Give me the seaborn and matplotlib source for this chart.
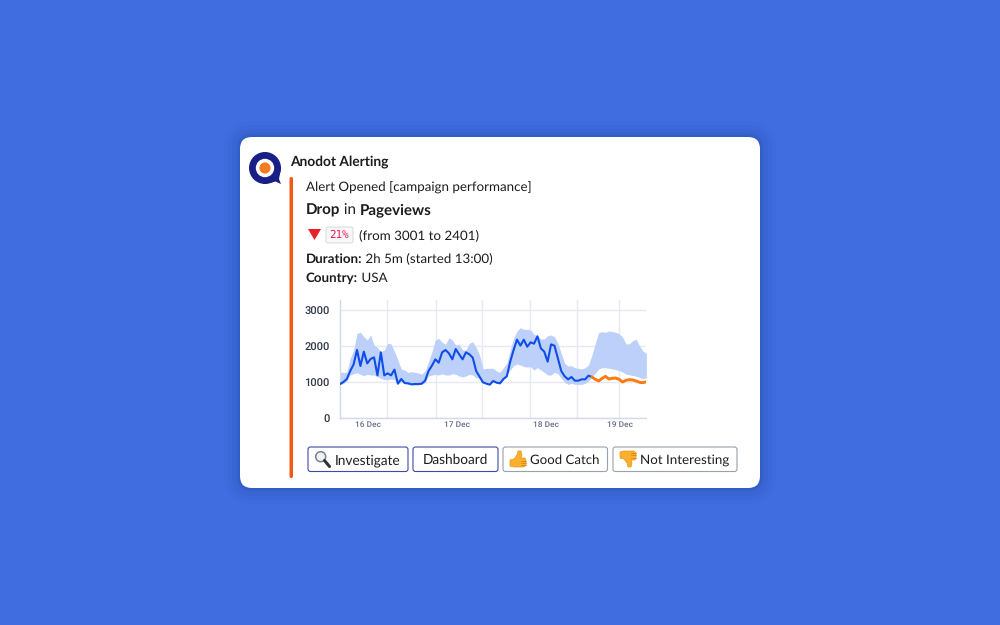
import math
import numpy as np
import pandas as pd
import matplotlib
matplotlib.use('Agg')
import matplotlib.pyplot as plt
from matplotlib.patches import FancyBboxPatch, Circle, Polygon
from matplotlib.transforms import ScaledTranslation
import seaborn as sns

# Pageviews, one sample every 55 minutes
actual_blue = [944, 1000, 1083, 1305, 1490, 1890, 1444, 1843, 1518, 1639, 1685, 1185, 1824, 1185, 1240, 1185,
               1343, 954, 1083, 972, 963, 935, 944, 944, 954, 1037, 1305, 1454, 1630, 1537, 1824, 1889,
               1796, 1630, 1917, 1769, 1630, 1824, 1769, 1676, 1305, 1148, 990, 954, 926, 1028, 981, 963,
               1083, 1157, 1565, 1889, 2176, 2009, 2176, 1981, 2102, 2065, 2269, 1935, 1843, 1565, 2046, 2009,
               1657, 1305, 1157, 1074, 1139, 1037, 1037, 1074, 1074, 1176, 1139]
actual_orange = [1139, 1074, 1028, 1102, 1157, 1083, 1102, 1111, 1074, 1000, 1046, 1065, 1056, 1028, 990, 981, 1009]
upper = [1268, 1268, 1268, 1657, 1889, 2352, 2380, 2259, 2167, 2306, 2028, 1954, 1843, 1889, 2074, 2056,
         1843, 1611, 1361, 1333, 1268, 1287, 1268, 1250, 1222, 1305, 1565, 1843, 2167, 2213, 2102, 2046,
         2231, 2167, 2028, 2046, 1889, 1889, 2074, 2120, 1954, 1750, 1361, 1380, 1380, 1380, 1305, 1268,
         1398, 1518, 1889, 2213, 2417, 2509, 2463, 2463, 2444, 2324, 2287, 2194, 2194, 2287, 2306, 2259,
         2074, 1796, 1518, 1444, 1454, 1398, 1380, 1361, 1398, 1472,
         1750, 2074, 2380, 2398, 2380, 2417, 2400, 2380, 2340, 2250, 2060, 2060, 2150, 2194, 2000, 1860, 1796]
lower = [926, 963, 1028, 1194, 1231, 1259, 1213, 1176, 1213, 1194, 1194, 1148, 1102, 1065, 1065, 1083,
         1065, 954, 1009, 954, 944, 917, 917, 917, 935, 991, 1167, 1194, 1213, 1194, 1231, 1194,
         1194, 1231, 1213, 1167, 1139, 1167, 1213, 1194, 1120, 1102, 990, 990, 963, 1009, 990, 963,
         1046, 1194, 1333, 1454, 1500, 1472, 1426, 1417, 1426, 1333, 1398, 1333, 1269, 1194, 1194, 1269,
         1231, 1102, 991, 935, 963, 935, 935, 935, 963, 1028,
         1148, 1241, 1361, 1398, 1398, 1380, 1365, 1343, 1315, 1280, 1220, 1200, 1180, 1160, 1125, 1090, 1120]

hour_step = 55 / 60
grid_hours = [12.7, 25.9, 38.3, 51.2, 63.9, 75.2]
label_hours = [7.5, 31.5, 55.5, 75.4]
day_labels = ['16 Dec', '17 Dec', '18 Dec', '19 Dec']
y_ticks = [0, 1000, 2000, 3000]

hours_band = np.arange(len(upper)) * hour_step
df_blue = pd.DataFrame({'hour': np.arange(len(actual_blue)) * hour_step, 'value': actual_blue})
df_orange = pd.DataFrame({'hour': (len(actual_blue) - 1 + np.arange(len(actual_orange))) * hour_step,
                          'value': actual_orange})

sns.set_theme(style='white')
plt.rcParams['font.family'] = ['Lato', 'DejaVu Sans']
plt.rcParams['text.hinting'] = 'no_hinting'

BG = '#406ee0'
INK = '#1d1c1d'

fig = plt.figure(figsize=(10, 6.25), dpi=100, facecolor=BG)

# whole figure axes in pixels, used for the card around the chart
page = fig.add_axes([0, 0, 1, 1])
page.set_xlim(0, 1000)
page.set_ylim(625, 0)
page.axis('off')

# soft shadow, then the card
for grow, alpha in [(16, 0.03), (12, 0.04), (8, 0.05), (4, 0.07), (2, 0.09)]:
    page.add_patch(FancyBboxPatch((240 - grow, 137 - grow), 520 + 2 * grow, 351 + 2 * grow,
                                  boxstyle='round,pad=0,rounding_size=%d' % (12 + grow),
                                  fc='#12308a', ec='none', alpha=alpha))
page.add_patch(FancyBboxPatch((240, 137), 520, 351, boxstyle='round,pad=0,rounding_size=12', fc='white', ec='none'))

# orange bar on the left
page.add_patch(FancyBboxPatch((289.5, 177), 3.5, 301, boxstyle='round,pad=0,rounding_size=1.7', fc='#f05a14', ec='none'))

# logo
page.add_patch(Circle((265, 168), 16, fc='#1a1f85', ec='none'))
page.add_patch(Polygon([[263, 184], [272, 182.5], [275.5, 181.5], [281, 184], [279, 179], [281, 168]],
                       fc='#1a1f85', ec='none'))
page.add_patch(Circle((265, 168), 9.2, fc='white', ec='none'))
page.add_patch(Circle((265, 168), 5.6, fc='#f47b20', ec='none'))


def runs(x, y, parts, size):
    # write bold and regular pieces one after the other on the same baseline
    renderer = fig.canvas.get_renderer()
    for word, weight in parts:
        t = page.text(x, y, word, fontsize=size, fontweight=weight, color=INK, va='baseline', ha='left')
        props = t.get_fontproperties()
        w1 = renderer.get_text_width_height_descent('x' + word + 'x', props, False)[0]
        w0 = renderer.get_text_width_height_descent('xx', props, False)[0]
        # agg rounds baseline plus descent, so cancel the fraction to keep the pieces level
        d = renderer.get_text_width_height_descent(word, props, False)[2]
        t.set_y(y + math.ceil(d) - d)
        x = x + w1 - w0


runs(290, 165, [('Anodot Alerting', 'bold')], 9.9)
runs(305.5, 191, [('Alert Opened [campaign performance]', 'normal')], 9.65)
runs(305.5, 214, [('Drop', 'bold'), (' in ', 'normal'), ('Pageviews', 'bold')], 10.9)
runs(359, 239, [('(from 3001 to 2401)', 'normal')], 9.65)
runs(305.5, 262, [('Duration:', 'bold'), (' 2h 5m (started 13:00)', 'normal')], 9.65)
runs(305.5, 281, [('Country:', 'bold'), (' USA', 'normal')], 9.65)

# red triangle and the percent tag
page.add_patch(Polygon([[308, 229], [321, 229], [314.5, 240]], fc='#e8202a', ec='none'))
page.add_patch(FancyBboxPatch((326, 227), 27, 16, boxstyle='round,pad=0,rounding_size=2', fc='#f8f8f8', ec='#dddddd', lw=0.8))
page.text(339.5, 235.3, '21%', fontsize=7.8, color='#e01e5a', ha='center', va='center', family='DejaVu Sans Mono')

# buttons
buttons = [(308, 100, 'Investigate', 335, '#3d4aa8', 9.85), (413, 85, 'Dashboard', 423, '#3d4aa8', 9.85),
           (503, 104.5, 'Good Catch', 530, '#9aa0ac', 9.55), (613, 124, 'Not Interesting', 640, '#9aa0ac', 9.65)]
for left, width, word, text_x, edge, size in buttons:
    page.add_patch(FancyBboxPatch((left, 447), width, 24.5, boxstyle='round,pad=0,rounding_size=2.5',
                                  fc='white', ec=edge, lw=0.8))
    page.text(text_x, 464, word, fontsize=size, color=INK, ha='left', va='baseline')

# magnifier
page.plot([324.5, 329.5], [460.5, 466.5], color='#30343a', lw=2.2, solid_capstyle='round')
page.add_patch(Circle((320.7, 456.7), 5, fc='#eef2f6', ec='#7b828c', lw=1.1))

# thumbs up and down, drawn from one outline
thumb_dx = [0, 4, 7, 8, 11, 12, 11, 15, 16, 16, 14, 4, 0]
thumb_dy = [1, 0, -4, -8, -8, -4, -1, -1, 2, 6, 8, 8, 7]
finger_rows = [1.5, 4, 6]
for left, mid, flip in [(510, 459, 1), (620, 459, -1)]:
    outline = [[left + dx, mid + flip * dy] for dx, dy in zip(thumb_dx, thumb_dy)]
    page.add_patch(Polygon(outline, fc='#fbb02d', ec='#e8951a', lw=0.5, joinstyle='round'))
    for row in finger_rows:
        page.plot([left + 10.5, left + 15.5], [mid + flip * row, mid + flip * row], color='#d98a12', lw=0.6)

# the chart itself
ax = fig.add_axes([0.340, (625 - 418) / 625, 0.306, 118 / 625], facecolor='none')
ax.fill_between(hours_band, lower, upper, color='#bcd0fa', lw=0)
sns.lineplot(data=df_blue, x='hour', y='value', color='#0f4de8', lw=1.5, ax=ax, zorder=3)
sns.lineplot(data=df_orange, x='hour', y='value', color='#ff7a0f', lw=2.1, ax=ax, zorder=3)
ax.set_xlim(0, 82.4)
ax.set_ylim(0, 3278)
ax.set_xlabel('')
ax.set_ylabel('')
ax.set_yticks(y_ticks)
ax.set_yticklabels([str(v) for v in y_ticks], fontsize=8, color='#333a4a', family='Roboto', fontweight='medium',
                   va='center_baseline')
ax.set_xticks(grid_hours)
ax.set_xticklabels([])
ax.set_xticks(label_hours, minor=True)
ax.set_xticklabels(day_labels, minor=True, fontsize=6, color='#667085', family='Roboto', fontweight='medium')
ax.tick_params(axis='x', which='both', length=0, pad=2)
ax.tick_params(axis='y', length=0, pad=7.5)
ax.grid(True, which='major', color='#e6e8f2', lw=1)
ax.set_axisbelow(True)
sns.despine(ax=ax, top=True, right=True)
ax.spines['left'].set_color('#d5d8e6')
ax.spines['bottom'].set_color('#d5d8e6')
ax.spines['left'].set_linewidth(1)
ax.spines['bottom'].set_linewidth(1)

# y labels sit one pixel lower in the original
for label in ax.get_yticklabels():
    label.set_transform(label.get_transform() + ScaledTranslation(0, -1 / 100, fig.dpi_scale_trans))

plt.savefig('out.png', dpi=100, facecolor=BG)
